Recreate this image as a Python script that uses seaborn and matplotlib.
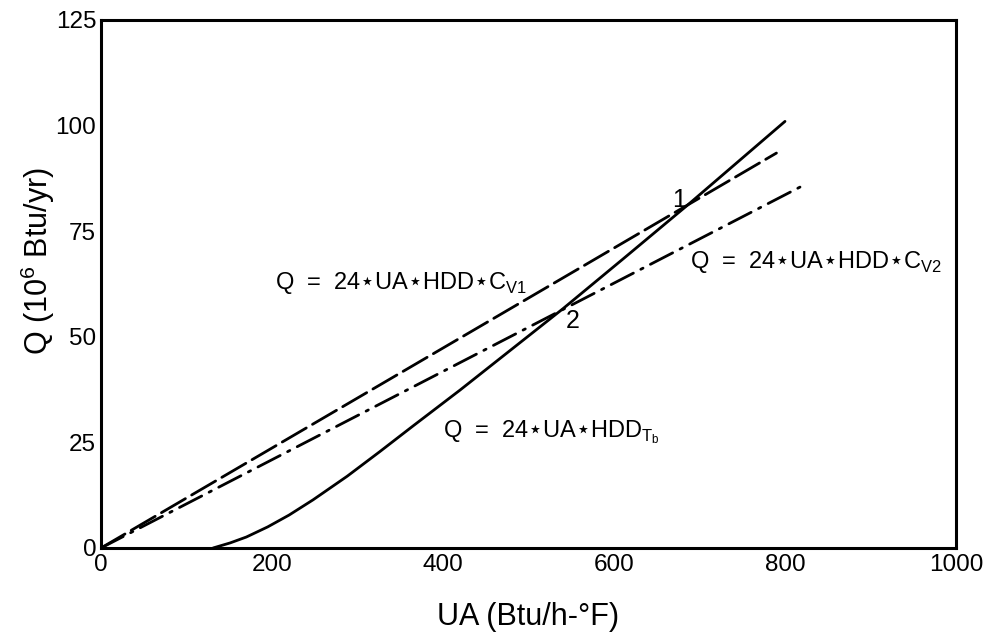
import matplotlib
matplotlib.use("Agg")
import matplotlib.pyplot as plt
import seaborn as sns
import pandas as pd

# ---- data ----
ua_tb = [131, 151, 170, 195, 220, 248, 288, 326, 365, 420, 475, 540, 611, 685, 800]
q_tb = [0.0, 1.2, 2.6, 5.0, 7.8, 11.4, 17.0, 22.8, 28.9, 37.4, 46.2, 56.6, 68.5, 81.0, 101.0]

ua_v1 = [0, 790]
q_v1 = [0.0, 93.5]

ua_v2 = [0, 820]
q_v2 = [0.0, 85.7]

x_ticks = [0, 200, 400, 600, 800, 1000]
y_ticks = [0, 25, 50, 75, 100, 125]

label_v1 = r"Q  =  24$\star$UA$\star$HDD$\star$C$_{\mathregular{V1}}$"
label_v2 = r"Q  =  24$\star$UA$\star$HDD$\star$C$_{\mathregular{V2}}$"
label_tb = r"Q  =  24$\star$UA$\star$HDD$_{\mathregular{T_b}}$"

sns.set_theme(style="white")
plt.rcParams["font.family"] = ["Liberation Sans", "DejaVu Sans"]
plt.rcParams["mathtext.fontset"] = "dejavusans"
plt.rcParams["text.color"] = "black"
plt.rcParams["axes.labelcolor"] = "black"
plt.rcParams["xtick.color"] = "black"
plt.rcParams["ytick.color"] = "black"

fig = plt.figure(figsize=(9.85, 6.36), dpi=100)
ax = fig.add_axes([101 / 985, 1 - 548 / 636, 855 / 985, 528 / 636])

df_tb = pd.DataFrame({"UA": ua_tb, "Q": q_tb})
df_v1 = pd.DataFrame({"UA": ua_v1, "Q": q_v1})
df_v2 = pd.DataFrame({"UA": ua_v2, "Q": q_v2})

lw = 2.0
sns.lineplot(data=df_tb, x="UA", y="Q", ax=ax, color="black", lw=lw,
             sort=False, estimator=None, legend=False)
l1 = sns.lineplot(data=df_v1, x="UA", y="Q", ax=ax, color="black", lw=lw,
                  sort=False, estimator=None, legend=False).lines[-1]
l1.set_dashes([10, 2.6])
l2 = sns.lineplot(data=df_v2, x="UA", y="Q", ax=ax, color="black", lw=lw,
                  sort=False, estimator=None, legend=False).lines[-1]
l2.set_dashes([9, 3, 0.9, 3])
for ln in ax.lines:
    ln.set_solid_capstyle("round")
    ln.set_dash_capstyle("round")

ax.set_xlim(0, 1000)
ax.set_ylim(0, 125)
ax.set_xticks(x_ticks)
ax.set_yticks(y_ticks)
ax.tick_params(axis="both", direction="in", length=12, width=1.5,
               labelsize=17.5, colors="black", pad=4)
ax.tick_params(axis="y", pad=3.5)
for s in ax.spines.values():
    s.set_visible(True)
    s.set_linewidth(2.2)
    s.set_color("black")

ax.set_xlabel("UA (Btu/h-°F)", fontsize=22, color="black")
ax.set_ylabel(r"Q (10$^{\mathregular{6}}$ Btu/yr)", fontsize=22, color="black")
ax.xaxis.set_label_coords(0.5, -0.1307)
ax.xaxis.label.set_va("center")
ax.yaxis.set_label_coords(-0.0737, 0.5436)
ax.yaxis.label.set_va("center")

ax.text(203, 61.3, label_v1, fontsize=17, ha="left", va="baseline", color="black")
ax.text(689, 66.3, label_v2, fontsize=17, ha="left", va="baseline", color="black")
ax.text(400, 26.3, label_tb, fontsize=17, ha="left", va="baseline", color="black")
ax.text(676, 80.8, "1", fontsize=18, ha="center", va="baseline", color="black")
ax.text(552, 52.1, "2", fontsize=18, ha="center", va="baseline", color="black")

fig.savefig("out.png", dpi=100, facecolor="white")
